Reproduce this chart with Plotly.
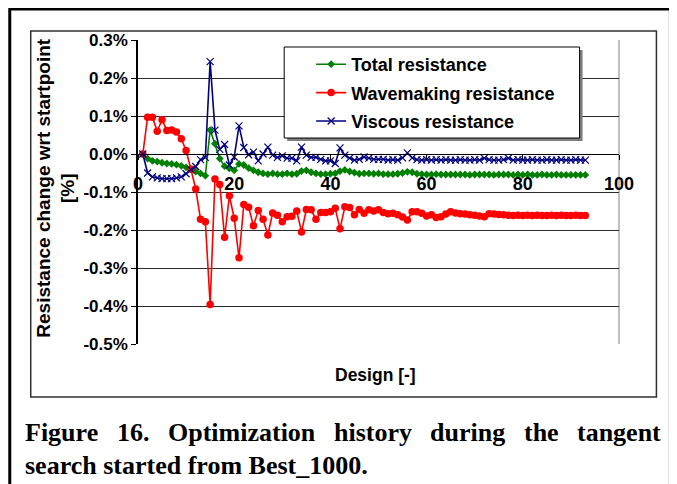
import plotly.graph_objects as go

# ---------------- data (values in %) ----------------
design = list(range(1, 94))

total = [
    0.000, -0.012, -0.018, -0.020, -0.023, -0.025, -0.026, -0.028, -0.031, -0.035,
    -0.040, -0.046, -0.051, -0.057, 0.063, 0.027, -0.012, -0.032, -0.038, -0.043,
    -0.026, -0.029, -0.037, -0.043, -0.048, -0.051, -0.053, -0.051, -0.053, -0.053,
    -0.051, -0.053, -0.052, -0.045, -0.043, -0.048, -0.051, -0.053, -0.053, -0.052,
    -0.051, -0.045, -0.042, -0.046, -0.049, -0.052, -0.051, -0.051, -0.052, -0.051,
    -0.053, -0.053, -0.053, -0.052, -0.050, -0.047, -0.048, -0.052, -0.053, -0.054,
    -0.054, -0.053, -0.054, -0.054, -0.054, -0.054, -0.054, -0.054, -0.055, -0.054,
    -0.054, -0.054, -0.054, -0.055, -0.054, -0.054, -0.054, -0.055, -0.054, -0.055,
    -0.054, -0.055, -0.055, -0.054, -0.055, -0.055, -0.054, -0.055, -0.055, -0.055,
    -0.055, -0.055, -0.055,
]

wavemaking = [
    0.000, 0.097, 0.097, 0.060, 0.090, 0.062, 0.063, 0.058, 0.040, 0.009,
    -0.040, -0.092, -0.172, -0.178, -0.396, -0.066, -0.080, -0.219, -0.110, -0.169,
    -0.273, -0.133, -0.140, -0.189, -0.149, -0.172, -0.213, -0.155, -0.161, -0.178,
    -0.165, -0.164, -0.150, -0.205, -0.146, -0.147, -0.172, -0.154, -0.154, -0.152,
    -0.143, -0.197, -0.139, -0.141, -0.160, -0.146, -0.156, -0.147, -0.150, -0.147,
    -0.154, -0.157, -0.156, -0.160, -0.166, -0.174, -0.152, -0.152, -0.156, -0.163,
    -0.160, -0.167, -0.165, -0.158, -0.152, -0.155, -0.157, -0.158, -0.160, -0.161,
    -0.163, -0.165, -0.157, -0.158, -0.159, -0.160, -0.161, -0.162, -0.161, -0.162,
    -0.161, -0.162, -0.161, -0.162, -0.162, -0.161, -0.162, -0.161, -0.162, -0.162,
    -0.161, -0.162, -0.162,
]

viscous = [
    0.000, -0.050, -0.060, -0.063, -0.065, -0.065, -0.065, -0.063, -0.060, -0.052,
    -0.041, -0.033, -0.015, -0.009, 0.243, 0.063, 0.012, 0.025, -0.029, -0.008,
    0.074, 0.017, -0.002, 0.005, -0.018, 0.000, 0.018, -0.003, -0.009, -0.005,
    -0.011, -0.011, -0.018, 0.018, -0.003, -0.009, -0.009, -0.014, -0.018, -0.018,
    -0.025, 0.016, -0.003, -0.011, -0.016, -0.014, -0.008, -0.011, -0.014, -0.014,
    -0.014, -0.016, -0.015, -0.016, -0.010, 0.003, -0.010, -0.015, -0.016, -0.015,
    -0.016, -0.015, -0.016, -0.015, -0.016, -0.016, -0.015, -0.016, -0.016, -0.015,
    -0.016, -0.011, -0.015, -0.016, -0.016, -0.015, -0.011, -0.016, -0.015, -0.016,
    -0.016, -0.015, -0.016, -0.016, -0.015, -0.016, -0.016, -0.015, -0.016, -0.016,
    -0.015, -0.016, -0.016,
]

x_ticks = [0, 20, 40, 60, 80, 100]
y_ticks = [-0.5, -0.4, -0.3, -0.2, -0.1, 0.0, 0.1, 0.2, 0.3]
y_tick_labels = ["-0.5%", "-0.4%", "-0.3%", "-0.2%", "-0.1%", "0.0%", "0.1%", "0.2%", "0.3%"]

series_names = ["Total resistance", "Wavemaking resistance", "Viscous resistance"]
caption_line1 = ["Figure", "16.", "Optimization", "history", "during", "the", "tangent"]
caption_line2 = "search started from Best_1000."
y_title = "Resistance change wrt startpoint<br>[%]"
x_title = "Design [-]"

# ---------------- layout geometry (page pixels) ----------------
W, H = 677, 484
OFF = 8                      # page body margin of the html page
L, R, T, B = 137.5, 57.5, 40, 140   # plot-area edges measured in page pixels
PW = W - L - R
PH = H - T - B


def px(x):
    return (x - L) / PW


def py(y):
    return (H - B - y) / PH


SANS = "Liberation Sans"
SERIF = "Liberation Serif"

fig = go.Figure()

fig.add_trace(go.Scatter(
    x=design, y=total, name=series_names[0], mode="lines+markers",
    line=dict(color="#008000", width=1.6),
    marker=dict(symbol="diamond", size=6, color="#008000"),
    legendgroup="g1",
))
fig.add_trace(go.Scatter(
    x=design, y=wavemaking, name=series_names[1], mode="lines+markers",
    line=dict(color="#FF0000", width=1.6),
    marker=dict(symbol="circle", size=7.5, color="#FF0000"),
    legendgroup="g2",
))
fig.add_trace(go.Scatter(
    x=design, y=viscous, name=series_names[2], mode="lines+markers",
    line=dict(color="#000080", width=1.6),
    marker=dict(symbol="x-thin", size=7, color="#000080",
                line=dict(color="#000080", width=1.2)),
    legendgroup="g3",
))

shapes = []
# outer frame (no bottom edge visible)
shapes.append(dict(type="rect", xref="paper", yref="paper",
                   x0=px(9), x1=px(671), y0=py(520), y1=py(9),
                   line=dict(color="black", width=3), fillcolor="rgba(0,0,0,0)", layer="above"))
# inner chart frame
shapes.append(dict(type="rect", xref="paper", yref="paper",
                   x0=px(30), x1=px(657), y0=py(397), y1=py(31),
                   line=dict(color="#303030", width=1.5), fillcolor="rgba(0,0,0,0)", layer="above"))
# plot-area right border
shapes.append(dict(type="line", xref="paper", yref="paper",
                   x0=1, x1=1, y0=0, y1=1,
                   line=dict(color="#808080", width=1), layer="below"))
# legend shadow and box
shapes.append(dict(type="rect", xref="paper", yref="paper",
                   x0=px(287), x1=px(583), y0=py(141), y1=py(50),
                   line=dict(width=0), fillcolor="#7f7f7f", layer="above"))
shapes.append(dict(type="rect", xref="paper", yref="paper",
                   x0=px(284), x1=px(580), y0=py(138), y1=py(47),
                   line=dict(color="black", width=1), fillcolor="white", layer="above"))

annotations = []
annotations.append(dict(text=y_title, xref="paper", yref="paper",
                        x=px(55), y=py(188), textangle=-90, showarrow=False,
                        font=dict(family=SANS, size=19, color="black", weight="bold"),
                        xanchor="center", yanchor="middle"))
annotations.append(dict(text=x_title, xref="paper", yref="paper",
                        x=px(375), y=py(375), showarrow=False,
                        font=dict(family=SANS, size=17.5, color="black", weight="bold"),
                        xanchor="center", yanchor="middle"))

# justified caption line 1 (Times Bold em widths used to spread words)
cap_size = 26
em = {"F": .611, "i": .278, "g": .5, "u": .556, "r": .444, "e": .444, "1": .5, "6": .5,
      ".": .25, "O": .778, "p": .556, "t": .333, "m": .833, "z": .444, "a": .5, "o": .5,
      "n": .556, "h": .556, "s": .389, "y": .5, "d": .556}
widths = [sum(em.get(c, .5) for c in w) * cap_size for w in caption_line1]
left_edge, right_edge = 23, 660
gap = (right_edge - left_edge - sum(widths)) / (len(caption_line1) - 1)
xpos = left_edge
for w, wd in zip(caption_line1, widths):
    annotations.append(dict(text=w, xref="paper", yref="paper",
                            x=px(xpos), y=py(433), showarrow=False,
                            font=dict(family=SERIF, size=cap_size, color="black", weight="bold"),
                            xanchor="left", yanchor="middle", borderpad=0))
    xpos += wd + gap
annotations.append(dict(text=caption_line2, xref="paper", yref="paper",
                        x=px(left_edge), y=py(465), showarrow=False,
                        font=dict(family=SERIF, size=cap_size, color="black", weight="bold"),
                        xanchor="left", yanchor="middle", borderpad=0))

fig.update_layout(
    width=W - OFF, height=H - OFF, autosize=False,
    margin=dict(l=L - OFF, r=R, t=T - OFF, b=B, pad=0),
    paper_bgcolor="white", plot_bgcolor="white",
    font=dict(family=SANS, color="black"),
    showlegend=True,
    legend=dict(x=px(311), y=py(46), xanchor="left", yanchor="top",
                bgcolor="rgba(0,0,0,0)", borderwidth=0,
                font=dict(family=SANS, size=18, color="black", weight="bold"),
                tracegroupgap=2, itemclick=False),
    shapes=shapes,
    annotations=annotations,
    xaxis=dict(range=[0, 100], tickvals=x_ticks, showgrid=False, zeroline=False,
               showline=True, linecolor="black", linewidth=1,
               ticks="outside", ticklen=5, tickcolor="black",
               anchor="free", position=py(154),
               tickfont=dict(family=SANS, size=18, color="black", weight="bold"),
               ticklabelstandoff=8),
    yaxis=dict(range=[-0.5, 0.3], tickvals=y_ticks, ticktext=y_tick_labels,
               showgrid=True, gridcolor="#2a2a2a", gridwidth=1, zeroline=False,
               showline=True, linecolor="black", linewidth=1.5,
               ticks="outside", ticklen=5, tickcolor="black",
               tickfont=dict(family=SANS, size=17, color="black", weight="bold")),
)

fig.write_html("out.html")
